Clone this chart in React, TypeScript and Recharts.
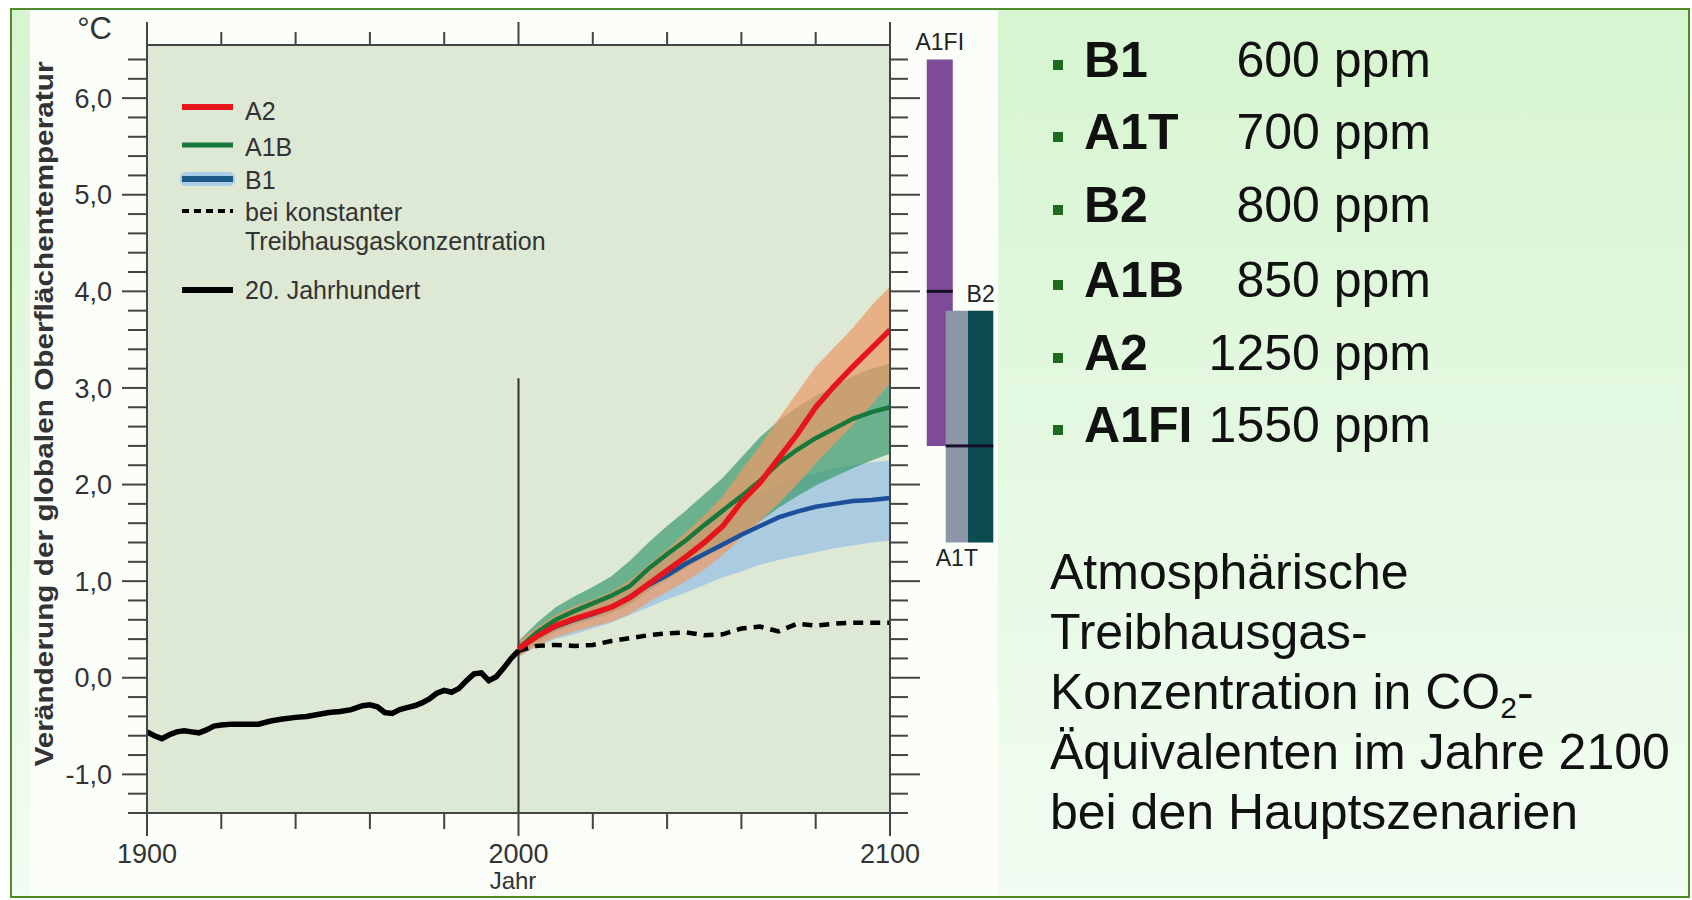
import React from "react";
import {
  ComposedChart,
  Line,
  Area,
  XAxis,
  YAxis,
  CartesianGrid,
  ReferenceArea,
  ReferenceLine,
  Legend,
} from "recharts";

// 20th century observed temperature change
const histYears = [
  1900, 1902, 1904, 1906, 1908, 1910, 1912, 1914, 1916, 1918, 1920, 1923, 1926, 1930, 1933,
  1936, 1940, 1943, 1946, 1949, 1952, 1955, 1958, 1960, 1962, 1964, 1966, 1968, 1970, 1972,
  1974, 1976, 1978, 1980, 1982, 1984, 1986, 1988, 1990, 1992, 1994, 1996, 1998, 2000,
];
const histTemps = [
  -0.56, -0.6, -0.63, -0.59, -0.56, -0.55, -0.56, -0.57, -0.54, -0.5, -0.49, -0.48, -0.48, -0.48,
  -0.45, -0.43, -0.41, -0.4, -0.38, -0.36, -0.35, -0.33, -0.29, -0.28, -0.3, -0.36, -0.37, -0.33,
  -0.31, -0.29, -0.26, -0.22, -0.16, -0.13, -0.15, -0.11, -0.03, 0.04, 0.05, -0.03, 0.01, 0.1,
  0.2, 0.28,
];

// scenario projections 2000-2100
const projYears = [
  2000, 2005, 2010, 2015, 2020, 2025, 2030, 2035, 2040, 2045, 2050, 2055, 2060, 2065, 2070, 2075,
  2080, 2085, 2090, 2095, 2100,
];
const a2Mean = [0.3, 0.43, 0.54, 0.61, 0.67, 0.73, 0.83, 0.97, 1.11, 1.25, 1.4, 1.57, 1.82, 2.02, 2.27, 2.52, 2.8, 3.02, 3.22, 3.41, 3.6];
const a2Low = [0.22, 0.33, 0.42, 0.48, 0.53, 0.58, 0.66, 0.78, 0.89, 1.0, 1.12, 1.27, 1.45, 1.62, 1.8, 2.0, 2.22, 2.42, 2.62, 2.82, 3.05];
const a2High = [0.38, 0.52, 0.65, 0.74, 0.81, 0.89, 1.01, 1.17, 1.33, 1.5, 1.68, 1.88, 2.15, 2.4, 2.68, 2.95, 3.22, 3.42, 3.62, 3.85, 4.05];

const a1bMean = [0.3, 0.47, 0.6, 0.69, 0.77, 0.85, 0.95, 1.13, 1.28, 1.42, 1.58, 1.73, 1.88, 2.04, 2.22, 2.36, 2.48, 2.58, 2.68, 2.75, 2.8];
const a1bLow = [0.22, 0.37, 0.48, 0.55, 0.61, 0.67, 0.76, 0.9, 1.02, 1.13, 1.25, 1.37, 1.5, 1.62, 1.76, 1.88, 1.99, 2.08, 2.17, 2.25, 2.32];
const a1bHigh = [0.38, 0.57, 0.73, 0.84, 0.94, 1.05, 1.21, 1.4, 1.57, 1.73, 1.9, 2.07, 2.28, 2.49, 2.66, 2.8, 2.92, 3.02, 3.12, 3.2, 3.25];

const b1Mean = [0.3, 0.43, 0.53, 0.6, 0.66, 0.73, 0.84, 0.96, 1.06, 1.18, 1.28, 1.38, 1.48, 1.57, 1.66, 1.72, 1.77, 1.8, 1.83, 1.84, 1.86];
const b1Low = [0.22, 0.32, 0.4, 0.45, 0.51, 0.57, 0.65, 0.73, 0.81, 0.88, 0.96, 1.04, 1.1, 1.17, 1.22, 1.26, 1.3, 1.34, 1.37, 1.4, 1.42];
const b1High = [0.36, 0.5, 0.62, 0.72, 0.8, 0.89, 1.0, 1.14, 1.28, 1.42, 1.55, 1.68, 1.8, 1.91, 2.0, 2.07, 2.12, 2.17, 2.2, 2.23, 2.25];

const constComp = [0.28, 0.33, 0.34, 0.33, 0.34, 0.38, 0.41, 0.44, 0.46, 0.47, 0.44, 0.45, 0.51, 0.53, 0.48, 0.56, 0.54, 0.56, 0.57, 0.57, 0.57];

// axes
const xTicks = [1900, 1920, 1940, 1960, 1980, 2000, 2020, 2040, 2060, 2080, 2100];
const xLabels = [1900, 2000, 2100];
const yTicks = [
  -1.4, -1.2, -1.0, -0.8, -0.6, -0.4, -0.2, 0, 0.2, 0.4, 0.6, 0.8, 1.0, 1.2, 1.4, 1.6, 1.8, 2.0,
  2.2, 2.4, 2.6, 2.8, 3.0, 3.2, 3.4, 3.6, 3.8, 4.0, 4.2, 4.4, 4.6, 4.8, 5.0, 5.2, 5.4, 5.6, 5.8,
  6.0, 6.2, 6.4,
];

// likely ranges in 2100 (bars at the right)
const rangeNames = ["A1FI", "A1T", "B2"];
const rangeLow = [2.4, 1.4, 1.4];
const rangeBest = [4.0, 2.4, 2.4];
const rangeHigh = [6.4, 3.8, 3.8];

// right-hand text
const scenarioNames = ["B1", "A1T", "B2", "A1B", "A2", "A1FI"];
const scenarioPpm = [600, 700, 800, 850, 1250, 1550];

const legendLabels = ["A2", "A1B", "B1", "bei konstanter", "Treibhausgaskonzentration", "20. Jahrhundert"];

const histData = histYears.map((year, i) => ({ year, t: histTemps[i] }));
const line = (vals: number[]) => projYears.map((year, i) => ({ year, t: vals[i] }));
const band = (lo: number[], hi: number[]) => projYears.map((year, i) => ({ year, range: [lo[i], hi[i]] }));

const FONT = "'Liberation Sans', Arial, sans-serif";
const AXIS = "#444";
const RED = "#e8141b";
const GREEN = "#16783a";
const BLUE = "#1b4f9c";

// bar layout (years beyond 2100 on the x scale)
const barX = [
  [2109.9, 2116.9],
  [2115.0, 2121.0],
  [2121.0, 2127.8],
];
const barColors = ["#7d4b97", "#8d96a6", "#0c4c50"];
const barLabelPos = ["top", "bottom", "top"];

const fmt = (v: number) => v.toFixed(1).replace(".", ",");
const isMajor = (v: number) => Math.abs(v - Math.round(v)) < 1e-6;

const LeftTick = ({ x, y, payload }: any) => {
  const v = payload.value;
  const major = isMajor(v);
  return (
    <g>
      <line x1={x - (major ? 25 : 19)} x2={x} y1={y} y2={y} stroke={AXIS} strokeWidth={2} />
      {major && (
        <text x={x - 35} y={y} dy="0.36em" textAnchor="end" fontSize={27} fill="#333" fontFamily={FONT}>
          {fmt(v)}
        </text>
      )}
    </g>
  );
};

const RightTick = ({ x, y, payload }: any) => {
  const major = isMajor(payload.value);
  return <line x1={x} x2={x + (major ? 30 : 18)} y1={y} y2={y} stroke={AXIS} strokeWidth={2} />;
};

const TopTick = ({ x, y, payload }: any) => {
  const major = xLabels.includes(payload.value);
  return <line x1={x} x2={x} y1={y - (major ? 23 : 13)} y2={y} stroke={AXIS} strokeWidth={2} />;
};

const BottomTick = ({ x, y, payload }: any) => {
  const major = xLabels.includes(payload.value);
  return (
    <g>
      <line x1={x} x2={x} y1={y} y2={y + (major ? 23 : 16)} stroke={AXIS} strokeWidth={2} />
      {major && (
        <text x={x} y={y + 50} textAnchor="middle" fontSize={27} fill="#333" fontFamily={FONT}>
          {payload.value}
        </text>
      )}
    </g>
  );
};

const YTitle = () => (
  <g>
    <text
      x={0}
      y={0}
      transform="translate(53 414) rotate(-90)"
      textAnchor="middle"
      fontSize={26}
      fontWeight="bold"
      fill="#333"
      fontFamily={FONT}
      textLength={705}
      lengthAdjust="spacingAndGlyphs"
    >
      Veränderung der globalen Oberflächentemperatur
    </text>
    <text x={112} y={39} textAnchor="end" fontSize={31} fill="#333" fontFamily={FONT}>
      °C
    </text>
  </g>
);

const XTitle = () => (
  <text x={513} y={889} textAnchor="middle" fontSize={24} fill="#333" fontFamily={FONT}>
    Jahr
  </text>
);

const LegendBox = () => (
  <svg width={380} height={230} style={{ overflow: "visible" }}>
    <g fontFamily={FONT} fontSize={25} fill="#333">
      <line x1={7} x2={58} y1={19} y2={19} stroke={RED} strokeWidth={6} />
      <text x={70} y={32}>{legendLabels[0]}</text>
      <line x1={7} x2={58} y1={57} y2={57} stroke={GREEN} strokeWidth={5} />
      <text x={70} y={68}>{legendLabels[1]}</text>
      <rect x={5} y={84} width={55} height={14} rx={6} fill="#a9cde6" />
      <line x1={7} x2={58} y1={91} y2={91} stroke="#1d5a8a" strokeWidth={6} />
      <text x={70} y={101}>{legendLabels[2]}</text>
      <line x1={7} x2={58} y1={123} y2={123} stroke="#000" strokeWidth={4} strokeDasharray="7 5" />
      <text x={70} y={133}>{legendLabels[3]}</text>
      <text x={70} y={162}>{legendLabels[4]}</text>
      <line x1={7} x2={58} y1={202} y2={202} stroke="#000" strokeWidth={6} />
      <text x={70} y={211}>{legendLabels[5]}</text>
    </g>
  </svg>
);

const bulletY = [65, 137, 210, 285, 358, 430];
const noteLines = ["Atmosphärische", "Treibhausgas-", "Konzentration in CO", "Äquivalenten im Jahre 2100", "bei den Hauptszenarien"];

const SideText = () => (
  <svg width={1692} height={900} style={{ position: "absolute", left: 0, top: 0, pointerEvents: "none" }}>
    <g fontFamily={FONT} fontSize={50} fill="#111">
      {scenarioNames.map((name, i) => (
        <g key={name}>
          <rect x={1053} y={bulletY[i] - 5} width={10} height={10} fill="#1e6b1e" />
          <text x={1084} y={bulletY[i] + 12} fontWeight="bold">
            {name}
          </text>
          <text x={1431} y={bulletY[i] + 12} textAnchor="end">
            {scenarioPpm[i]} ppm
          </text>
        </g>
      ))}
      {noteLines.map((t, i) => (
        <text key={t} x={1050} y={589 + i * 60}>
          {t}
          {i === 2 && (
            <>
              <tspan fontSize={30} dy={9}>2</tspan>
              <tspan dy={-9}>-</tspan>
            </>
          )}
        </text>
      ))}
    </g>
  </svg>
);

export default function App() {
  return (
    <div style={{ position: "absolute", left: 0, top: 0, width: 1692, height: 900, background: "#ffffff", fontFamily: FONT }}>
      <div
        style={{
          position: "absolute",
          left: 10,
          top: 8,
          width: 1676,
          height: 886,
          border: "2px solid #4f8a2b",
          background: "linear-gradient(to bottom, #d6f5d0 0%, #e3f8e0 45%, #f2fcf2 100%)",
        }}
      />
      <div style={{ position: "absolute", left: 30, top: 10, width: 968, height: 885, background: "#fafdf8" }} />
      <div style={{ position: "absolute", left: 0, top: 0 }}>
        <ComposedChart width={1692} height={900} margin={{ top: 44, right: 801, bottom: 86, left: 146 }}>
          <CartesianGrid fill="#dde8d5" stroke="none" horizontal={false} vertical={false} />
          <XAxis
            xAxisId="bottom"
            type="number"
            dataKey="year"
            domain={[1900, 2100]}
            ticks={xTicks}
            interval={0}
            allowDataOverflow
            height={1}
            tickSize={0}
            tickMargin={0}
            tickLine={false}
            axisLine={{ stroke: AXIS, strokeWidth: 2 }}
            tick={BottomTick}
            label={<XTitle />}
          />
          <XAxis
            xAxisId="top"
            orientation="top"
            type="number"
            dataKey="year"
            domain={[1900, 2100]}
            ticks={xTicks}
            interval={0}
            allowDataOverflow
            height={1}
            tickSize={0}
            tickMargin={0}
            tickLine={false}
            axisLine={{ stroke: AXIS, strokeWidth: 2 }}
            tick={TopTick}
          />
          <YAxis
            yAxisId="left"
            type="number"
            domain={[-1.4, 6.55]}
            ticks={yTicks}
            interval={0}
            allowDataOverflow
            width={1}
            tickSize={0}
            tickMargin={0}
            tickLine={false}
            axisLine={{ stroke: AXIS, strokeWidth: 2 }}
            tick={LeftTick}
            label={<YTitle />}
          />
          <YAxis
            yAxisId="right"
            orientation="right"
            type="number"
            domain={[-1.4, 6.55]}
            ticks={yTicks}
            interval={0}
            allowDataOverflow
            width={1}
            tickSize={0}
            tickMargin={0}
            tickLine={false}
            axisLine={{ stroke: AXIS, strokeWidth: 2 }}
            tick={RightTick}
          />
          <Legend
            layout="vertical"
            align="center"
            verticalAlign="middle"
            content={<LegendBox />}
            wrapperStyle={{ left: 175, top: 88, width: 380, height: 230 }}
          />

          <ReferenceLine
            xAxisId="bottom"
            yAxisId="left"
            segment={[{ x: 2000, y: -1.4 }, { x: 2000, y: 3.1 }]}
            stroke="#333"
            strokeWidth={2}
          />

          <Area xAxisId="bottom" yAxisId="left" data={band(b1Low, b1High)} dataKey="range" type="linear" stroke="none" fill="#9fc4e2" fillOpacity={0.8} isAnimationActive={false} activeDot={false} />
          <Area xAxisId="bottom" yAxisId="left" data={band(a1bLow, a1bHigh)} dataKey="range" type="linear" stroke="none" fill="#3a9a6e" fillOpacity={0.7} isAnimationActive={false} activeDot={false} />
          <Area xAxisId="bottom" yAxisId="left" data={band(a2Low, a2High)} dataKey="range" type="linear" stroke="none" fill="#ec9a68" fillOpacity={0.72} isAnimationActive={false} activeDot={false} />

          <Line xAxisId="bottom" yAxisId="left" data={line(constComp)} dataKey="t" type="linear" stroke="#000" strokeWidth={4.5} strokeDasharray="10 7" dot={false} activeDot={false} isAnimationActive={false} />
          <Line xAxisId="bottom" yAxisId="left" data={histData} dataKey="t" type="linear" stroke="#000" strokeWidth={5.5} dot={false} activeDot={false} isAnimationActive={false} />
          <Line xAxisId="bottom" yAxisId="left" data={line(b1Mean)} dataKey="t" type="linear" stroke={BLUE} strokeWidth={4.5} dot={false} activeDot={false} isAnimationActive={false} />
          <Line xAxisId="bottom" yAxisId="left" data={line(a1bMean)} dataKey="t" type="linear" stroke={GREEN} strokeWidth={4.5} dot={false} activeDot={false} isAnimationActive={false} />
          <Line xAxisId="bottom" yAxisId="left" data={line(a2Mean)} dataKey="t" type="linear" stroke={RED} strokeWidth={5.5} dot={false} activeDot={false} isAnimationActive={false} />

          {rangeNames.map((name, i) => (
            <ReferenceArea
              key={name}
              xAxisId="bottom"
              yAxisId="left"
              x1={barX[i][0]}
              x2={barX[i][1]}
              y1={rangeLow[i]}
              y2={rangeHigh[i]}
              fill={barColors[i]}
              fillOpacity={1}
              stroke="none"
              ifOverflow="visible"
              label={{
                value: name,
                position: barLabelPos[i],
                offset: barLabelPos[i] === "top" ? 9 : 7,
                fontSize: 23,
                fill: "#222",
                fontFamily: FONT,
              }}
            />
          ))}
          {rangeNames.map((name, i) => (
            <ReferenceLine
              key={name + "-best"}
              xAxisId="bottom"
              yAxisId="left"
              segment={[{ x: barX[i][0], y: rangeBest[i] }, { x: barX[i][1], y: rangeBest[i] }]}
              stroke="#16102a"
              strokeWidth={3}
              ifOverflow="visible"
            />
          ))}
        </ComposedChart>
      </div>
      <SideText />
    </div>
  );
}
